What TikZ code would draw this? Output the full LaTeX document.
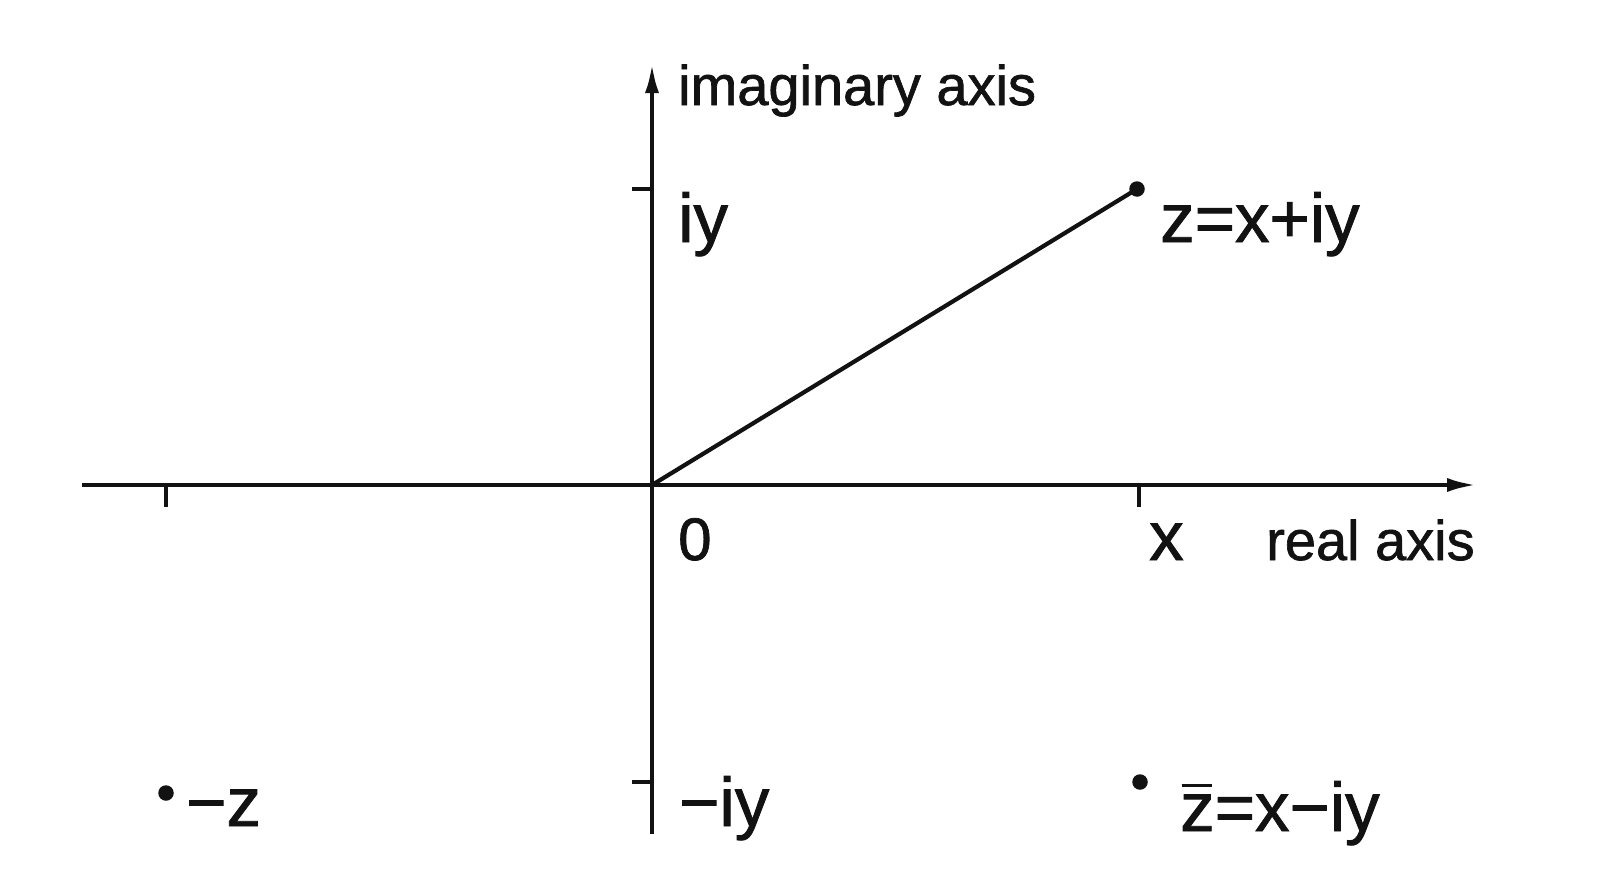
\documentclass[tikz,border=0pt]{standalone}
\usepackage{fontspec}
\setmainfont[FakeBold=1.2]{Liberation Sans}
\usetikzlibrary{arrows.meta}
\newcommand{\txtsize}{\fontsize{56}{60}\selectfont}
\newcommand{\mathsize}{\fontsize{69}{74}\selectfont}
\begin{document}
\begin{tikzpicture}[x=1pt,y=-1pt,
  axisline/.style={line width=4.5pt,-{Latex[length=30pt,width=14pt]}},
  tickline/.style={line width=4.2pt},
  segline/.style={line width=4.2pt},
  dot/.style={circle,fill=black!93,inner sep=0pt,minimum size=15.5pt},
  lbl/.style={anchor=base west,inner sep=0pt,text=black!93,font=\mathsize},
  txt/.style={anchor=base west,inner sep=0pt,text=black!93,font=\txtsize}]
\fill[white] (0,0) rectangle (1602,886);
\useasboundingbox (0,0) rectangle (1602,886);
% axes
\coordinate (O) at (652,485);
\coordinate (xl) at (82,485);
\coordinate (xr) at (1477,485);
\coordinate (yb) at (652,834);
\coordinate (yt) at (652,63);
\draw[axisline,black!93] (xl) -- (xr);
\draw[axisline,black!93] (yb) -- (yt);
% ticks
\coordinate (t1a) at (166,485); \coordinate (t1b) at (166,507);
\coordinate (t2a) at (1139,485); \coordinate (t2b) at (1139,507);
\coordinate (t3a) at (632,189); \coordinate (t3b) at (652,189);
\coordinate (t4a) at (632,782); \coordinate (t4b) at (652,782);
\draw[tickline,black!93] (t1a) -- (t1b);
\draw[tickline,black!93] (t2a) -- (t2b);
\draw[tickline,black!93] (t3a) -- (t3b);
\draw[tickline,black!93] (t4a) -- (t4b);
% points
\node[dot] (z) at (1137,189) {};
\node[dot] (mz) at (166,793) {};
\node[dot] (zb) at (1140,782) {};
\draw[segline,black!93] (O) -- (z.center);
% labels
\node[txt] (imlab) at (678,105) {imaginary axis};
\node[lbl] (iy) at (678,242) {iy};
\node[lbl] (zlab) at (1160,242) {z=x+iy};
\node[lbl,font=\fontsize{60}{64}\selectfont] (zero) at (678,560) {0};
\node[lbl] (xlab) at (1149,560) {x};
\node[txt] (relab) at (1266,560) {real axis};
\node[lbl] (mzlab) at (186,826) {−z};
\node[lbl] (miy) at (679,826) {−iy};
\node[lbl] (zblab) at (1180,831) {\rlap{\hspace{0.02em}\raisebox{0.64em}{\rule{0.44em}{0.045em}}}z=x−iy};
\end{tikzpicture}
\end{document}
